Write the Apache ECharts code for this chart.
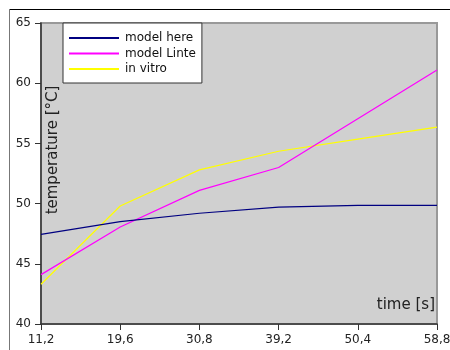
<!DOCTYPE html>
<html>
<head>
<meta charset="utf-8">
<script src="https://cdn.jsdelivr.net/npm/echarts@6/dist/echarts.min.js"></script>
<style>
html,body{margin:0;padding:0;background:#fff;}
#chart{width:450px;height:350px;}
</style>
</head>
<body>
<div id="chart"></div>
<script>
var categories = ['11,2', '19,6', '30,8', '39,2', '50,4', '58,8'];
var modelHere = [47.45, 48.5, 49.2, 49.7, 49.85, 49.85];
var modelLinte = [44.1, 48.05, 51.1, 53.0, 57.05, 61.1];
var inVitro = [43.3, 49.8, 52.8, 54.35, 55.35, 56.35];
var seriesNames = ['model here', 'model Linte', 'in vitro'];
var seriesColors = ['#000080', '#ff00ff', '#ffff00'];

var chart = echarts.init(document.getElementById('chart'), null, {renderer: 'canvas'});
var font = 'DejaVu Sans';
var dataSets = [modelHere, modelLinte, inVitro];
var option = {
  animation: false,
  backgroundColor: '#ffffff',
  textStyle: {fontFamily: font},
  graphic: [
    {type: 'line', shape: {x1: 10, y1: 9.5, x2: 450, y2: 9.5}, style: {stroke: '#000', lineWidth: 1}, z: 100},
    {type: 'line', shape: {x1: 9.5, y1: 9, x2: 9.5, y2: 350}, style: {stroke: '#777', lineWidth: 1}, z: 100}
  ],
  grid: {
    left: 41, right: 13, top: 23, bottom: 26,
    containLabel: false,
    outerBoundsMode: 'none',
    show: true, backgroundColor: '#d0d0d0', borderColor: '#999', borderWidth: 2
  },
  legend: {
    orient: 'vertical',
    left: 63, top: 23,
    padding: [8, 6, 7, 6],
    itemGap: 1.5,
    itemWidth: 50,
    itemHeight: 2,
    icon: 'rect',
    backgroundColor: '#ffffff',
    borderColor: '#333',
    borderWidth: 1,
    borderRadius: 0,
    textStyle: {fontFamily: font, fontSize: 12, color: '#111', lineHeight: 14, padding: [0, 0, 0, 1]},
    data: seriesNames
  },
  xAxis: {
    type: 'category',
    data: categories,
    boundaryGap: false,
    name: 'time [s]',
    nameLocation: 'end',
    nameGap: -2,
    nameMoveOverlap: false,
    nameTextStyle: {fontFamily: font, fontSize: 15, color: '#222', align: 'right', verticalAlign: 'bottom', padding: [0, 0, 11, 0]},
    axisLine: {lineStyle: {color: '#333', width: 1.5}},
    axisTick: {show: true, length: 6, inside: false, lineStyle: {color: '#333'}},
    axisLabel: {fontFamily: font, fontSize: 12, color: '#222', margin: 10},
    splitLine: {show: false}
  },
  yAxis: {
    type: 'value',
    min: 40, max: 65, interval: 5,
    name: 'temperature [°C]',
    nameLocation: 'middle',
    nameGap: -12,
    nameRotate: 90,
    nameMoveOverlap: false,
    nameTextStyle: {fontFamily: font, fontSize: 15, color: '#222', align: 'center', verticalAlign: 'middle', padding: [0, 0, 0, 47]},
    axisLine: {show: true, lineStyle: {color: '#333', width: 1.5}},
    axisTick: {show: true, length: 6, inside: false, lineStyle: {color: '#333'}},
    axisLabel: {fontFamily: font, fontSize: 12, color: '#222', margin: 10},
    splitLine: {show: false}
  },
  series: seriesNames.map(function (n, i) {
    return {
      name: n,
      type: 'line',
      data: dataSets[i],
      symbol: 'none',
      showSymbol: false,
      color: seriesColors[i],
      lineStyle: {color: seriesColors[i], width: 1.2},
      z: 3 - i
    };
  })
};
chart.setOption(option);
</script>
</body>
</html>
